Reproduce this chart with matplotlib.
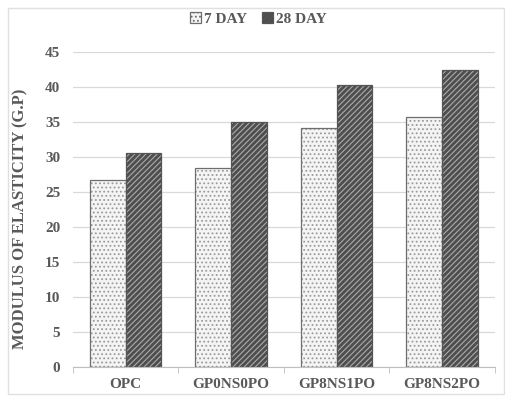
import matplotlib
matplotlib.use("Agg")
import matplotlib.pyplot as plt
import numpy as np
from matplotlib.patches import Rectangle, Patch

categories = ["OPC", "GP0NS0PO", "GP8NS1PO", "GP8NS2PO"]
day7 = [26.7, 28.4, 34.1, 35.7]
day28 = [30.5, 35.0, 40.3, 42.4]
series_names = ["7 DAY", "28 DAY"]
yticks = [0, 5, 10, 15, 20, 25, 30, 35, 40, 45]

plt.rcParams['font.family'] = ['Liberation Serif', 'DejaVu Serif']
plt.rcParams['hatch.linewidth'] = 0.8

fig = plt.figure(figsize=(5.06, 3.96), dpi=100)
ax = fig.add_axes([0.144, 0.073, 0.834, 0.796])

x = np.arange(len(categories))
w = 0.34
txt = '#595959'

# 7 day: light with dots
ax.bar(x - w/2, day7, w, facecolor='#f4f4f4', edgecolor='#9a9a9a', hatch='....', linewidth=0, zorder=2)
ax.bar(x - w/2, day7, w, fill=False, edgecolor='#6e6e6e', linewidth=0.9, zorder=3)
# 28 day: dark with diagonal hatch
ax.bar(x + w/2, day28, w, facecolor='#4e4e4e', edgecolor='#ababab', hatch='//////', linewidth=0, zorder=2)
ax.bar(x + w/2, day28, w, fill=False, edgecolor='#555555', linewidth=0.9, zorder=3)

ax.set_xlim(-0.5, len(categories) - 0.5)
ax.set_ylim(0, 45)
ax.set_yticks(yticks)
ax.yaxis.grid(True, color='#d9d9d9', linewidth=0.9, zorder=0)
ax.set_axisbelow(True)
for s in ['top', 'right', 'left']:
    ax.spines[s].set_visible(False)
ax.spines['bottom'].set_color('#bfbfbf')
ax.tick_params(axis='y', length=0, pad=9, labelsize=11, labelcolor=txt)
ax.set_yticklabels([str(v) for v in yticks], fontweight='bold')

ax.set_xticks(x)
ax.set_xticklabels(categories, fontweight='bold', fontsize=11, color=txt)
ax.tick_params(axis='x', length=0, pad=8)
ax.set_xticks(np.arange(-0.5, len(categories), 1.0), minor=True)
ax.tick_params(axis='x', which='minor', length=4, color='#bfbfbf')

ax.set_ylabel("MODULUS OF ELASTICITY (G.P)", fontweight='bold', fontsize=12, color=txt)
ax.yaxis.set_label_coords(-0.105, 0.47)

# legend
h1 = Patch(facecolor='#f4f4f4', edgecolor='#6e6e6e', hatch='....', linewidth=0.9)
h2 = Patch(facecolor='#4e4e4e', edgecolor='#555555', hatch='//////', linewidth=0.9)
leg = fig.legend([h1, h2], series_names, loc='center', bbox_to_anchor=(0.511, 0.952), ncol=2,
                 frameon=False, handlelength=0.7, handleheight=0.7, handletextpad=0.2,
                 columnspacing=1.0, prop={'weight': 'bold', 'size': 11})
for t in leg.get_texts():
    t.set_color(txt)

# chart-area border
fig.patches.append(Rectangle((0.016, 0.005), 0.98, 0.975, transform=fig.transFigure,
                             fill=False, edgecolor='#e0e0e0', linewidth=1))

fig.savefig("out.png", dpi=100)
